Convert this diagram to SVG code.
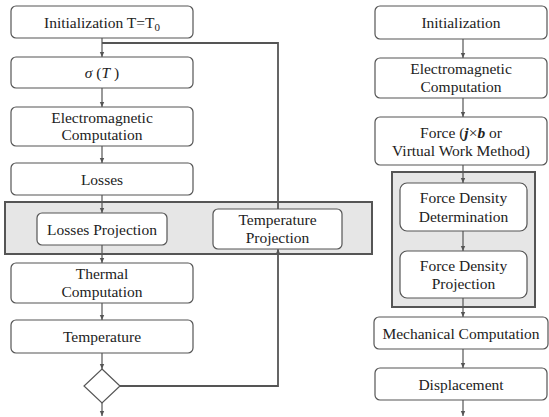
<svg xmlns="http://www.w3.org/2000/svg" width="549" height="417" viewBox="0 0 549 417">
<style>
.box{fill:#fff;stroke:#555;stroke-width:1.2}
.band{fill:#e6e6e6;stroke:#555;stroke-width:2}
.c{fill:none;stroke:#555;stroke-width:1.2}
.fb{fill:none;stroke:#555;stroke-width:1.8}
</style>
<defs>
<marker id="ar" markerUnits="userSpaceOnUse" markerWidth="8" markerHeight="8" refX="5" refY="3" orient="auto">
<path d="M0,0.8 L5,3 L0,5.2 Z" fill="#555"/>
</marker>
</defs>
<g id="band-left"><rect class="band" x="5" y="202" width="367" height="52"/></g>
<g id="band-right"><rect class="band" x="392" y="172" width="143" height="135"/></g>
<g id="connectors">
<line class="c" x1="102" y1="38" x2="102" y2="57" marker-end="url(#ar)"/>
<line class="c" x1="102" y1="88" x2="102" y2="107" marker-end="url(#ar)"/>
<line class="c" x1="102" y1="146" x2="102" y2="163" marker-end="url(#ar)"/>
<line class="c" x1="102" y1="195" x2="102" y2="213" marker-end="url(#ar)"/>
<line class="c" x1="102" y1="245" x2="102" y2="263" marker-end="url(#ar)"/>
<line class="c" x1="102" y1="303" x2="102" y2="320" marker-end="url(#ar)"/>
<line class="c" x1="102" y1="353" x2="102" y2="369" marker-end="url(#ar)"/>
<line class="c" x1="102" y1="403" x2="102" y2="416" marker-end="url(#ar)"/>
<polyline class="fb" points="120,386 278,386 278,250"/>
<line class="c" x1="278" y1="254" x2="278" y2="249" marker-end="url(#ar)"/>
<polyline class="fb" points="278,209 278,43 102,43"/>
<line class="c" x1="463" y1="39" x2="463" y2="58" marker-end="url(#ar)"/>
<line class="c" x1="463" y1="98" x2="463" y2="117" marker-end="url(#ar)"/>
<line class="c" x1="463" y1="165" x2="463" y2="183" marker-end="url(#ar)"/>
<line class="c" x1="463" y1="231" x2="463" y2="251" marker-end="url(#ar)"/>
<line class="c" x1="463" y1="298" x2="463" y2="317" marker-end="url(#ar)"/>
<line class="c" x1="463" y1="349" x2="463" y2="368" marker-end="url(#ar)"/>
<line class="c" x1="463" y1="400" x2="463" y2="416" marker-end="url(#ar)"/>
</g>
<g font-family="Liberation Serif" font-size="15.5" fill="#222" text-anchor="middle">
<g id="init-t"><rect class="box" x="11" y="6" width="182" height="32" rx="5"/><text x="102" y="27.5">Initialization T=T<tspan font-size="11" dy="3">0</tspan></text></g>
<g id="sigma"><rect class="box" x="11" y="57" width="182" height="31" rx="5"/><text x="102" y="78"><tspan font-style="italic">σ</tspan> (<tspan font-style="italic">T</tspan> )</text></g>
<g id="em-left"><rect class="box" x="11" y="107" width="182" height="39" rx="5"/><text x="102" y="122.5">Electromagnetic</text><text x="102" y="140">Computation</text></g>
<g id="losses"><rect class="box" x="11" y="163" width="182" height="32" rx="5"/><text x="102" y="184.5">Losses</text></g>
<g id="losses-proj"><rect class="box" x="37" y="213" width="130" height="32" rx="5"/><text x="102" y="234.5">Losses Projection</text></g>
<g id="temp-proj"><rect class="box" x="213" y="209" width="129" height="40" rx="5"/><text x="277.5" y="225">Temperature</text><text x="277.5" y="243">Projection</text></g>
<g id="thermal"><rect class="box" x="11" y="263" width="182" height="40" rx="5"/><text x="102" y="278.5">Thermal</text><text x="102" y="296.5">Computation</text></g>
<g id="temperature"><rect class="box" x="11" y="320" width="182" height="33" rx="5"/><text x="102" y="341.5">Temperature</text></g>
<g id="decision"><polygon class="box" points="102,369 120,386 102,403 84,386"/></g>
<g id="init-r"><rect class="box" x="375" y="6" width="172" height="33" rx="5"/><text x="461" y="27.5">Initialization</text></g>
<g id="em-right"><rect class="box" x="375" y="58" width="172" height="40" rx="5"/><text x="461" y="74">Electromagnetic</text><text x="461" y="92">Computation</text></g>
<g id="force"><rect class="box" x="375" y="117" width="172" height="48" rx="5"/><text x="461" y="137.5">Force (<tspan font-weight="bold" font-style="italic">j</tspan>×<tspan font-weight="bold" font-style="italic">b</tspan> or</text><text x="461" y="156">Virtual Work Method)</text></g>
<g id="fd-det"><rect class="box" x="400" y="183" width="127" height="48" rx="7"/><text x="463.5" y="203">Force Density</text><text x="463.5" y="221.5">Determination</text></g>
<g id="fd-proj"><rect class="box" x="400" y="251" width="127" height="47" rx="7"/><text x="463.5" y="270.5">Force Density</text><text x="463.5" y="289">Projection</text></g>
<g id="mech"><rect class="box" x="374" y="317" width="174" height="32" rx="5"/><text x="461" y="338.5">Mechanical Computation</text></g>
<g id="disp"><rect class="box" x="375" y="368" width="172" height="32" rx="5"/><text x="461" y="389.5">Displacement</text></g>
</g>
</svg>
